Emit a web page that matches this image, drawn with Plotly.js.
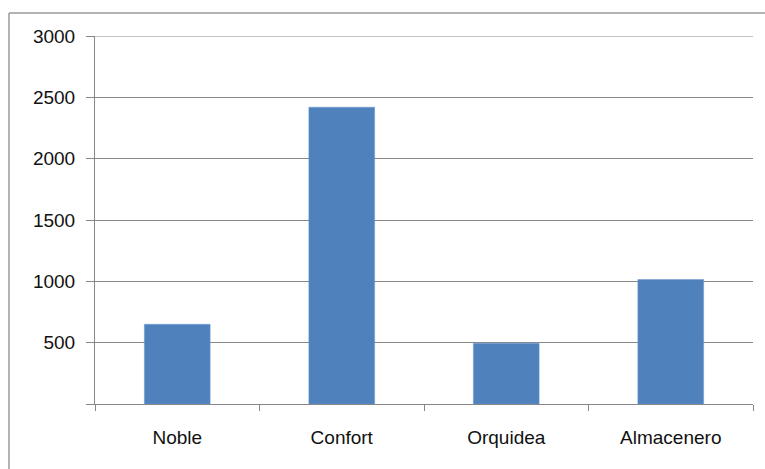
<!DOCTYPE html>
<html>
<head>
<meta charset="utf-8">
<script src="https://cdn.plot.ly/plotly-3.0.1.min.js"></script>
<style>
html,body{margin:0;padding:0;background:#fff;}
#chart{width:765px;height:469px;}
</style>
</head>
<body>
<div id="chart"></div>
<script>
const categories = ["Noble", "Confort", "Orquidea", "Almacenero"];
const values = [650, 2420, 495, 1015];
const yTickVals = [0, 500, 1000, 1500, 2000, 2500, 3000];
const yTickText = ["", "500", "1000", "1500", "2000", "2500", "3000"];
const yMax = 3000;

const gridColor = "#878787";
const fontSpec = {family: "Liberation Sans, Arial, sans-serif", size: 19, color: "#111111"};

const trace = {
  type: "bar",
  x: categories,
  y: values,
  marker: {color: "#4F81BD", line: {color: "#6E9AD0", width: 0.5}},
  hoverinfo: "x+y"
};

const layout = {
  width: 765,
  height: 469,
  margin: {l: 95, r: 12, t: 36, b: 65},
  paper_bgcolor: "#ffffff",
  plot_bgcolor: "#ffffff",
  showlegend: false,
  bargap: 0.6,
  font: fontSpec,
  xaxis: {
    type: "category",
    tickson: "boundaries",
    ticks: "outside",
    ticklen: 6,
    tickcolor: gridColor,
    tickwidth: 1,
    showline: true,
    linecolor: gridColor,
    linewidth: 1,
    showgrid: false,
    zeroline: false,
    tickfont: fontSpec,
    ticklabelstandoff: 16,
    fixedrange: true
  },
  yaxis: {
    range: [0, yMax],
    tickmode: "array",
    tickvals: yTickVals,
    ticktext: yTickText,
    ticks: "outside",
    ticklen: 8,
    tickcolor: gridColor,
    tickwidth: 1,
    showline: true,
    linecolor: gridColor,
    linewidth: 1,
    showgrid: true,
    gridcolor: gridColor,
    gridwidth: 1,
    zeroline: false,
    tickfont: fontSpec,
    ticklabelstandoff: 7,
    fixedrange: true
  },
  shapes: [
    {type: "line", xref: "paper", yref: "y", x0: 0, x1: 1, y0: yMax, y1: yMax,
     line: {color: gridColor, width: 1}},
    {type: "line", xref: "paper", yref: "paper", x0: -0.1307, x1: 1.02, y0: 1.0625, y1: 1.0625,
     line: {color: "#9a9a9a", width: 1.5}},
    {type: "line", xref: "paper", yref: "paper", x0: -0.1307, x1: -0.1307, y0: 1.0625, y1: -0.2,
     line: {color: "#9a9a9a", width: 1.5}}
  ]
};

Plotly.newPlot("chart", [trace], layout, {displayModeBar: false, staticPlot: true});
</script>
</body>
</html>
